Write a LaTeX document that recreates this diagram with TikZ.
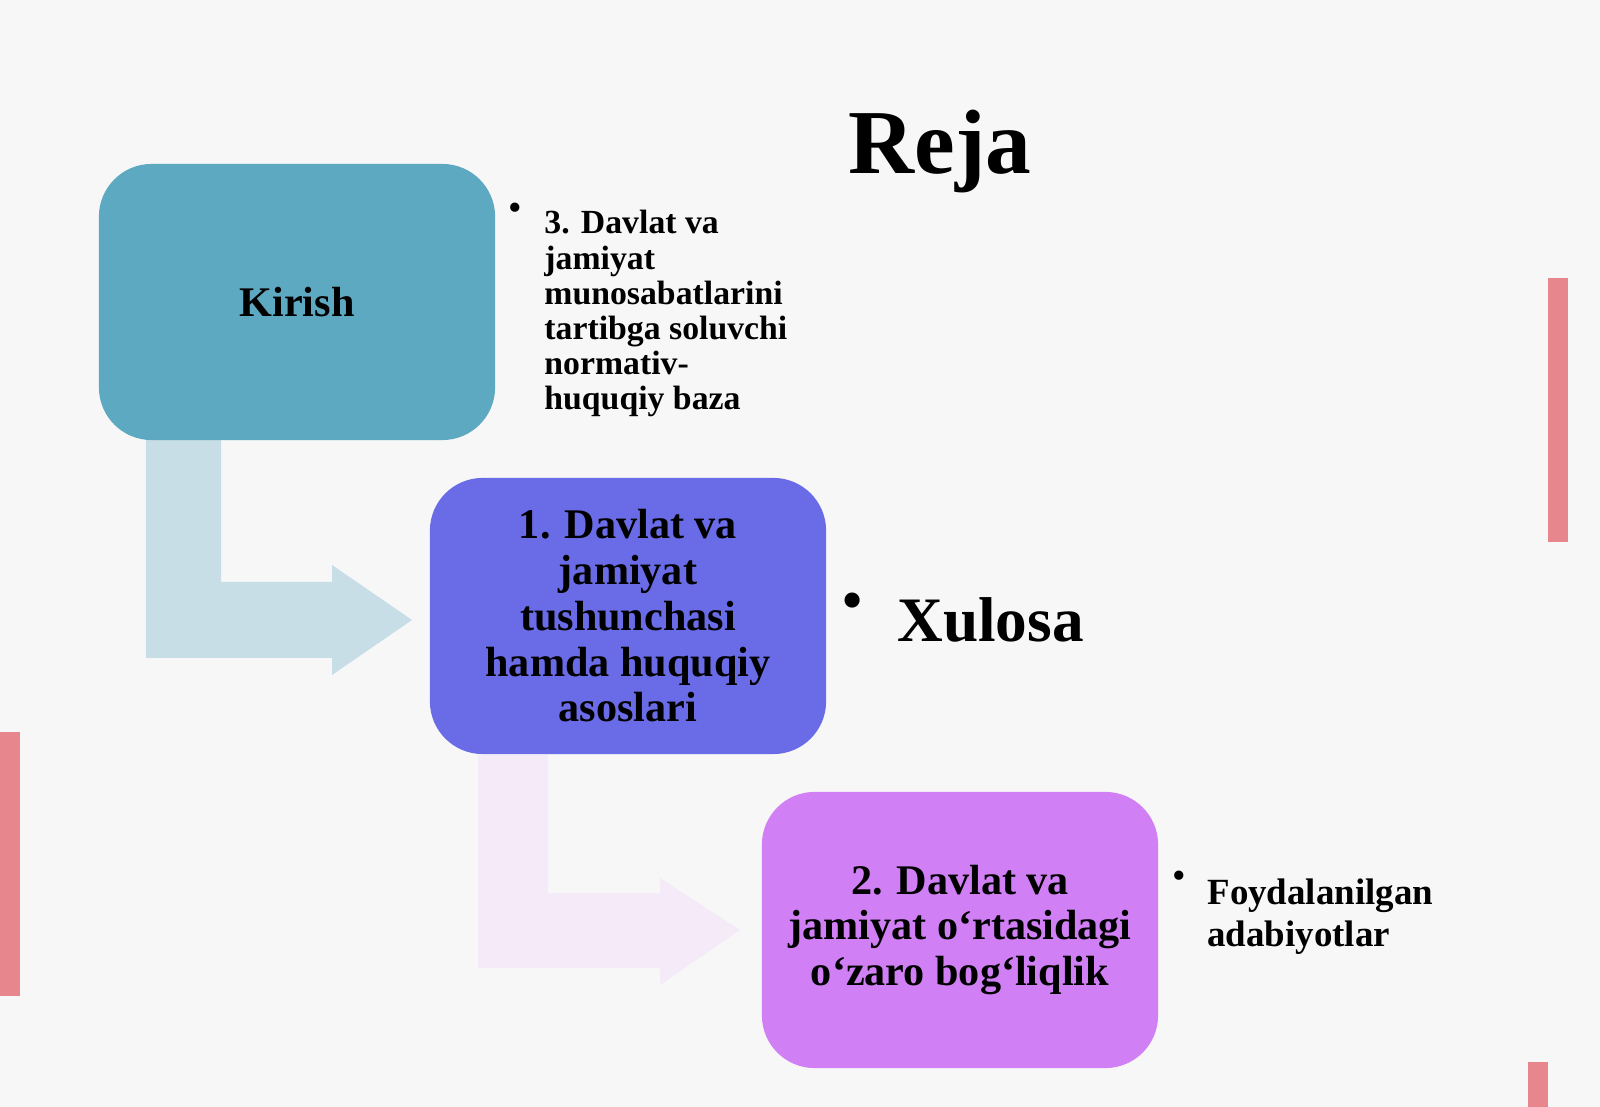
\documentclass[tikz,border=0pt]{standalone}
\usepackage{fontspec}
\setmainfont{Liberation Serif}
\definecolor{bgcol}{HTML}{F7F7F7}
\definecolor{kirishcol}{HTML}{5DA9C1}
\definecolor{birinchicol}{HTML}{6A6BE6}
\definecolor{ikkinchicol}{HTML}{D07FF5}
\definecolor{arrow_blue}{HTML}{C8DEE6}
\definecolor{arrow_lilac}{HTML}{F4EAF8}
\definecolor{bar_red}{HTML}{E8868E}
\tikzset{
  rejabox/.style={rounded corners=15pt, minimum width=3.96cm, minimum height=2.76cm,
    align=center, font=\bfseries\fontsize{12}{13}\selectfont},
  note/.style={anchor=north west, align=left, font=\bfseries\fontsize{9.6}{10}\selectfont},
  dot/.style={font=\fontsize{11}{11}\selectfont}
}
\begin{document}
\begin{tikzpicture}[x=0.01cm, y=-0.01cm]
  \fill[bgcol] (0,0) rectangle (1600,1107);
  \useasboundingbox (0,0) rectangle (1600,1107);

  % side bars
  \fill[bar_red] (1548,278) rectangle (1568,542);
  \fill[bar_red] (0,732) rectangle (20,996);
  \fill[bar_red] (1528,1062) rectangle (1548,1107);

  % bent arrows
  \fill[arrow_blue] (146,440) -- (221,440) -- (221,582) -- (332,582) -- (332,565)
    -- (412,620) -- (332,675) -- (332,658) -- (146,658) -- cycle;
  \fill[arrow_lilac] (478,755) -- (548,755) -- (548,893) -- (660,893) -- (660,878)
    -- (740,930) -- (660,985) -- (660,968) -- (478,968) -- cycle;

  \node[font=\bfseries\fontsize{26}{28}\selectfont] (title) at (940,152) {Reja};

  \node[rejabox, fill=kirishcol] (kirish) at (297,302) {Kirish};
  \node[rejabox, fill=birinchicol] (birinchi) at (628,616)
    {1. Davlat va\\jamiyat\\tushunchasi\\hamda huquqiy\\asoslari};
  \node[rejabox, fill=ikkinchicol] (ikkinchi) at (960,930)
    {2. Davlat va\\jamiyat o‘rtasidagi\\o‘zaro bog‘liqlik};

  \node[dot] (b1) at (515,212) {\textbullet};
  \node[note] (uchinchi) at (532,198) {3. Davlat va\\jamiyat\\munosabatlarini\\tartibga soluvchi\\normativ-\\huquqiy baza};

  \node[dot, font=\fontsize{18}{18}\selectfont] (b2) at (853,607) {\textbullet};
  \node[note, font=\bfseries\fontsize{18}{20}\selectfont] (xulosa) at (885,585) {Xulosa};

  \node[dot] (b3) at (1179,880) {\textbullet};
  \node[note, font=\bfseries\fontsize{10.5}{12}\selectfont] (foyda) at (1195,866) {Foydalanilgan\\adabiyotlar};
\end{tikzpicture}
\end{document}
